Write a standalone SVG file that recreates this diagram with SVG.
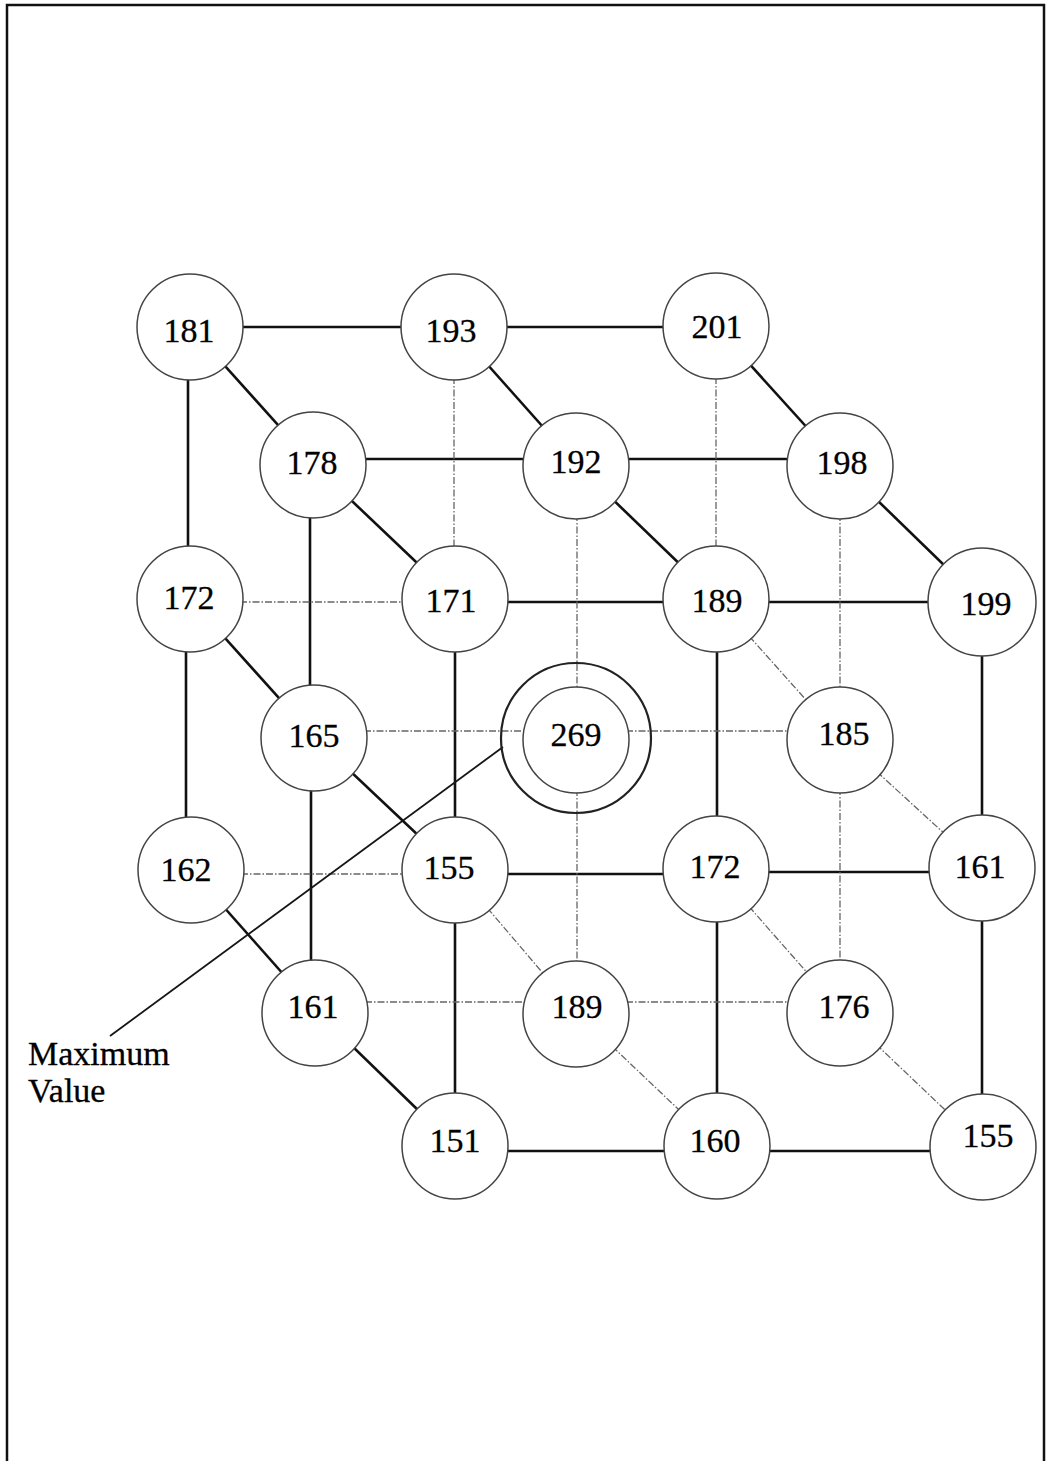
<svg xmlns="http://www.w3.org/2000/svg" width="1046" height="1461" viewBox="0 0 1046 1461">
<style>
.s{stroke:#111;stroke-width:2.6;fill:none}
.d{stroke:#666;stroke-width:1.3;fill:none;stroke-dasharray:7 2 1.5 2}
.n circle{fill:#fff;stroke:#444;stroke-width:1.5}
text{font-family:"Liberation Serif","Times New Roman",serif;font-size:34px;fill:#000;stroke:#000;stroke-width:0.3;text-anchor:middle}
.lbl{text-anchor:start}
</style>
<rect width="1046" height="1461" fill="#fff"/>
<path d="M7,1461 V5 H1044 V1461" fill="none" stroke="#111" stroke-width="2.5"/>
<g id="connectors">
<line class="s" x1="190" y1="327" x2="454" y2="327"/>
<line class="s" x1="454" y1="327" x2="716" y2="327"/>
<line class="s" x1="188" y1="327" x2="188" y2="599"/>
<line class="s" x1="190" y1="327" x2="313" y2="464"/>
<line class="s" x1="454" y1="327" x2="576" y2="464"/>
<line class="s" x1="716" y1="327" x2="840" y2="464"/>
<line class="s" x1="313" y1="459" x2="576" y2="459"/>
<line class="s" x1="576" y1="459" x2="840" y2="459"/>
<line class="s" x1="313" y1="464" x2="455" y2="599"/>
<line class="s" x1="310" y1="464" x2="310" y2="737"/>
<line class="s" x1="576" y1="464" x2="716" y2="599"/>
<line class="s" x1="840" y1="464" x2="982" y2="602"/>
<line class="s" x1="455" y1="602" x2="716" y2="602"/>
<line class="s" x1="716" y1="602" x2="982" y2="602"/>
<line class="s" x1="190" y1="599" x2="314" y2="737"/>
<line class="s" x1="186" y1="599" x2="186" y2="870"/>
<line class="s" x1="455" y1="599" x2="455" y2="870"/>
<line class="s" x1="717" y1="599" x2="717" y2="869"/>
<line class="s" x1="982" y1="602" x2="982" y2="868"/>
<line class="s" x1="314" y1="737" x2="455" y2="870"/>
<line class="s" x1="311" y1="737" x2="311" y2="1010"/>
<line class="s" x1="191" y1="870" x2="315" y2="1010"/>
<line class="s" x1="455" y1="874" x2="716" y2="874"/>
<line class="s" x1="716" y1="872" x2="982" y2="872"/>
<line class="s" x1="455" y1="870" x2="455" y2="1146"/>
<line class="s" x1="717" y1="869" x2="717" y2="1146"/>
<line class="s" x1="982" y1="868" x2="982" y2="1146"/>
<line class="s" x1="315" y1="1010" x2="455" y2="1146"/>
<line class="s" x1="455" y1="1151" x2="717" y2="1151"/>
<line class="s" x1="717" y1="1151" x2="983" y2="1151"/>
<line class="d" x1="454" y1="327" x2="454" y2="599"/>
<line class="d" x1="716" y1="327" x2="716" y2="599"/>
<line class="d" x1="190" y1="602" x2="455" y2="602"/>
<line class="d" x1="577" y1="464" x2="577" y2="739"/>
<line class="d" x1="840" y1="464" x2="840" y2="738"/>
<line class="d" x1="314" y1="731" x2="576" y2="731"/>
<line class="d" x1="576" y1="731" x2="840" y2="731"/>
<line class="d" x1="716" y1="599" x2="840" y2="738"/>
<line class="d" x1="840" y1="738" x2="982" y2="868"/>
<line class="d" x1="191" y1="874" x2="455" y2="874"/>
<line class="d" x1="577" y1="739" x2="577" y2="1012"/>
<line class="d" x1="840" y1="738" x2="840" y2="1010"/>
<line class="d" x1="455" y1="870" x2="576" y2="1012"/>
<line class="d" x1="716" y1="869" x2="840" y2="1010"/>
<line class="d" x1="315" y1="1002" x2="576" y2="1002"/>
<line class="d" x1="576" y1="1002" x2="840" y2="1002"/>
<line class="d" x1="576" y1="1012" x2="717" y2="1146"/>
<line class="d" x1="840" y1="1010" x2="983" y2="1146"/>
<line x1="110" y1="1036" x2="503" y2="747" stroke="#151515" stroke-width="1.8"/>
</g>
<g id="node-181" class="n"><circle cx="190" cy="327" r="53"/><text x="189" y="342">181</text></g>
<g id="node-193" class="n"><circle cx="454" cy="327" r="53"/><text x="451" y="342">193</text></g>
<g id="node-201" class="n"><circle cx="716" cy="326" r="53"/><text x="717" y="338">201</text></g>
<g id="node-178" class="n"><circle cx="313" cy="465" r="53"/><text x="312" y="474">178</text></g>
<g id="node-192" class="n"><circle cx="576" cy="466" r="53"/><text x="576" y="473">192</text></g>
<g id="node-198" class="n"><circle cx="840" cy="466" r="53"/><text x="842" y="474">198</text></g>
<g id="node-172a" class="n"><circle cx="190" cy="599" r="53"/><text x="189" y="609">172</text></g>
<g id="node-171" class="n"><circle cx="455" cy="599" r="53"/><text x="451" y="612">171</text></g>
<g id="node-189a" class="n"><circle cx="716" cy="599" r="53"/><text x="717" y="612">189</text></g>
<g id="node-199" class="n"><circle cx="982" cy="602" r="54"/><text x="986" y="615">199</text></g>
<g id="node-165" class="n"><circle cx="314" cy="738" r="53"/><text x="314" y="747">165</text></g>
<g id="node-269" class="n"><circle cx="576" cy="740" r="53"/><circle cx="576" cy="738" r="75" style="fill:none;stroke:#222;stroke-width:2.2"/><text x="576" y="746">269</text></g>
<g id="node-185" class="n"><circle cx="840" cy="740" r="53"/><text x="844" y="745">185</text></g>
<g id="node-162" class="n"><circle cx="191" cy="870" r="53"/><text x="186" y="881">162</text></g>
<g id="node-155a" class="n"><circle cx="455" cy="870" r="53"/><text x="449" y="879">155</text></g>
<g id="node-172b" class="n"><circle cx="716" cy="869" r="53"/><text x="715" y="878">172</text></g>
<g id="node-161b" class="n"><circle cx="982" cy="868" r="53"/><text x="980" y="878">161</text></g>
<g id="node-161a" class="n"><circle cx="315" cy="1013" r="53"/><text x="313" y="1018">161</text></g>
<g id="node-189b" class="n"><circle cx="576" cy="1014" r="53"/><text x="577" y="1018">189</text></g>
<g id="node-176" class="n"><circle cx="840" cy="1013" r="53"/><text x="844" y="1018">176</text></g>
<g id="node-151" class="n"><circle cx="455" cy="1146" r="53"/><text x="455" y="1152">151</text></g>
<g id="node-160" class="n"><circle cx="717" cy="1146" r="53"/><text x="715" y="1152">160</text></g>
<g id="node-155b" class="n"><circle cx="983" cy="1147" r="53"/><text x="988" y="1147">155</text></g>
<g id="label"><text class="lbl" x="28" y="1065">Maximum</text><text class="lbl" x="28" y="1102">Value</text></g>
</svg>
